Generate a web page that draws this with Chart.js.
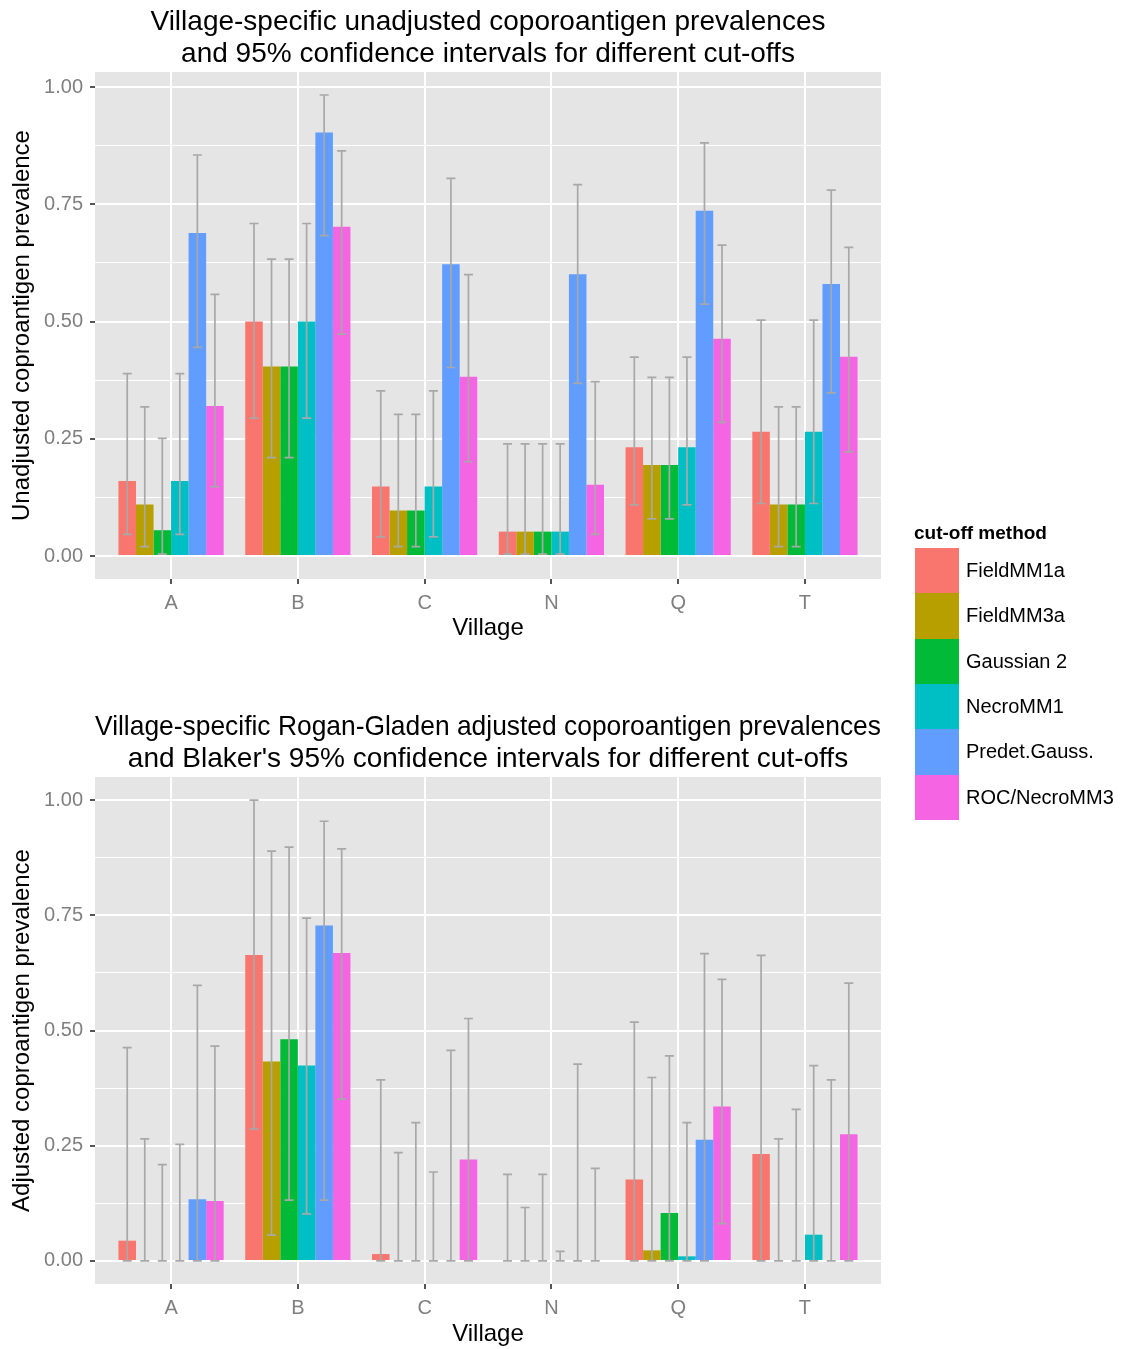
<!DOCTYPE html>
<html>
<head>
<meta charset="utf-8">
<script src="https://cdn.jsdelivr.net/npm/chart.js@4.4.1/dist/chart.umd.min.js"></script>
<style>
  body { margin: 0; width: 1121px; height: 1349px; overflow: hidden; background: #fff; position: relative;
         font-family: 'Liberation Sans', Arial, sans-serif; }
  canvas { position: absolute; left: 0; }
  #topChart { top: 0; }
  #bottomChart { top: 700px; }
  #legend { position: absolute; left: 914px; top: 522px; color: #000; }
  #legend .lt { font-weight: bold; font-size: 19px; line-height: 22px; height: 26px; }
  #legend .row { display: flex; align-items: center; height: 45.33px; }
  #legend .key { width: 44px; height: 45.33px; margin-left: 1px; }
  #legend .lab { font-size: 20px; margin-left: 7px; }
</style>
</head>
<body>
<canvas id="topChart" width="976" height="649"></canvas>
<canvas id="bottomChart" width="976" height="649"></canvas>
<div id="legend"><div class="lt">cut-off method</div></div>
<script>
const villages = ['A', 'B', 'C', 'N', 'Q', 'T'];
const methods = ['FieldMM1a', 'FieldMM3a', 'Gaussian 2', 'NecroMM1', 'Predet.Gauss.', 'ROC/NecroMM3'];
const methodColors = ['#F8766D', '#B79F00', '#00BA38', '#00BFC4', '#619CFF', '#F564E3'];

// unadjusted prevalences, one row per method, columns follow villages
const unadjPrev = [
    [0.160, 0.500, 0.148, 0.052, 0.232, 0.265],
    [0.110, 0.404, 0.097, 0.052, 0.194, 0.110],
    [0.055, 0.404, 0.097, 0.052, 0.194, 0.110],
    [0.160, 0.500, 0.148, 0.052, 0.232, 0.265],
    [0.689, 0.903, 0.622, 0.601, 0.736, 0.580],
    [0.320, 0.702, 0.382, 0.152, 0.463, 0.425]
];
const unadjLower = [
    [0.046, 0.294, 0.041, 0.004, 0.109, 0.112],
    [0.020, 0.210, 0.020, 0.004, 0.079, 0.020],
    [0.004, 0.210, 0.020, 0.004, 0.079, 0.020],
    [0.046, 0.294, 0.041, 0.004, 0.109, 0.112],
    [0.445, 0.683, 0.402, 0.368, 0.537, 0.348],
    [0.148, 0.473, 0.201, 0.046, 0.285, 0.222]
];
const unadjUpper = [
    [0.389, 0.709, 0.352, 0.239, 0.424, 0.503],
    [0.318, 0.633, 0.302, 0.239, 0.381, 0.318],
    [0.251, 0.633, 0.302, 0.239, 0.381, 0.318],
    [0.389, 0.709, 0.352, 0.239, 0.424, 0.503],
    [0.855, 0.983, 0.805, 0.792, 0.881, 0.780],
    [0.558, 0.864, 0.600, 0.372, 0.663, 0.658]
];

// Rogan-Gladen adjusted prevalences
const adjPrev = [
    [0.044, 0.664, 0.015, 0, 0.177, 0.232],
    [0, 0.433, 0, 0, 0.023, 0],
    [0, 0.481, 0, 0, 0.104, 0],
    [0, 0.424, 0, 0, 0.010, 0.057],
    [0.134, 0.728, 0, 0, 0.263, 0],
    [0.130, 0.668, 0.220, 0, 0.335, 0.275]
];
const adjLower = [
    [0, 0.286, 0, 0, 0, 0],
    [0, 0.056, 0, 0, 0, 0],
    [0, 0.132, 0, 0, 0, 0],
    [0, 0.102, 0, 0, 0, 0],
    [0, 0.132, 0, 0, 0, 0],
    [0, 0.351, 0, 0, 0.081, 0]
];
const adjUpper = [
    [0.463, 1.000, 0.393, 0.188, 0.518, 0.663],
    [0.265, 0.889, 0.235, 0.116, 0.398, 0.265],
    [0.209, 0.898, 0.300, 0.188, 0.445, 0.329],
    [0.253, 0.744, 0.193, 0.021, 0.300, 0.424],
    [0.598, 0.954, 0.457, 0.427, 0.667, 0.393],
    [0.466, 0.894, 0.526, 0.201, 0.611, 0.603]
];

const yTicks = [0, 0.125, 0.25, 0.375, 0.5, 0.625, 0.75, 0.875, 1];
const yTickLabels = ['0.00', '', '0.25', '', '0.50', '', '0.75', '', '1.00'];

const FONT = "'Liberation Sans', Arial, sans-serif";
Chart.defaults.font.family = FONT;

const isMajor = v => Math.abs(v * 4 - Math.round(v * 4)) < 1e-6;

// grey panel behind the grid
const panelBg = {
    id: 'panelBg',
    beforeDraw(chart) {
        const { ctx, chartArea: a } = chart;
        ctx.save();
        ctx.fillStyle = '#e5e5e5';
        ctx.fillRect(a.left, a.top, a.right - a.left, a.bottom - a.top);
        ctx.restore();
    }
};

// confidence interval whiskers on top of the bars
const errorBars = {
    id: 'errorBars',
    afterDatasetsDraw(chart) {
        const { ctx } = chart;
        const y = chart.scales.y;
        ctx.save();
        ctx.strokeStyle = '#a8a8a8';
        ctx.lineWidth = 1.7;
        chart.data.datasets.forEach((ds, i) => {
            chart.getDatasetMeta(i).data.forEach((bar, j) => {
                const x = bar.x;
                const y1 = y.getPixelForValue(ds.lower[j]);
                const y2 = y.getPixelForValue(ds.upper[j]);
                const hw = 4.5;
                ctx.beginPath();
                ctx.moveTo(x, y1); ctx.lineTo(x, y2);
                ctx.moveTo(x - hw, y1); ctx.lineTo(x + hw, y1);
                ctx.moveTo(x - hw, y2); ctx.lineTo(x + hw, y2);
                ctx.stroke();
            });
        });
        ctx.restore();
    }
};

function makeChart(id, titleLines, titlePadTop, yTitle, prev, lower, upper, yMin, yMax, xHeight, xTitlePad) {
    const ctx = document.getElementById(id).getContext('2d');
    return new Chart(ctx, {
        type: 'bar',
        data: {
            datasets: methods.map((m, i) => ({
                label: m,
                data: prev[i].map((v, j) => ({ x: j, y: v })),
                lower: lower[i],
                upper: upper[i],
                backgroundColor: methodColors[i],
                borderWidth: 0,
                categoryPercentage: 0.83,
                barPercentage: 1
            }))
        },
        options: {
            responsive: false,
            animation: false,
            devicePixelRatio: 1,
            layout: { padding: { left: 0, right: 95, top: 0, bottom: 0 } },
            plugins: {
                legend: { display: false },
                tooltip: { enabled: false },
                title: {
                    display: true,
                    fullSize: false,
                    text: titleLines,
                    color: '#000',
                    font: { size: 28, weight: 'normal', lineHeight: 1.143 },
                    padding: { top: titlePadTop, bottom: 2 }
                }
            },
            scales: {
                x: {
                    type: 'linear',
                    offset: false,
                    min: -0.6,
                    max: villages.length - 0.4,
                    afterBuildTicks(scale) { scale.ticks = villages.map((v, j) => ({ value: j })); },
                    grid: { offset: false, color: '#ffffff', lineWidth: 2, tickLength: 5, tickColor: '#555555' },
                    border: { display: false },
                    ticks: { color: '#7f7f7f', font: { size: 20 }, padding: 7,
                             callback: v => villages[v] },
                    title: { display: true, text: 'Village', color: '#000', font: { size: 24 },
                             padding: { top: 0, bottom: xTitlePad } },
                    afterFit(scale) { scale.height = xHeight; }
                },
                y: {
                    min: yMin,
                    max: yMax,
                    afterBuildTicks(scale) { scale.ticks = yTicks.map(v => ({ value: v })); },
                    grid: {
                        color: '#ffffff',
                        lineWidth: c => isMajor(c.tick.value) ? 2 : 1,
                        tickLength: 5,
                        tickColor: c => isMajor(c.tick.value) ? '#555555' : 'rgba(0,0,0,0)'
                    },
                    border: { display: false },
                    ticks: {
                        color: '#7f7f7f', font: { size: 20 }, padding: 7,
                        callback: (v, idx) => yTickLabels[idx]
                    },
                    title: { display: true, text: yTitle, color: '#000', font: { size: 24 },
                             padding: { top: 8, bottom: 0 } },
                    afterFit(scale) { scale.width = 95; }
                }
            }
        },
        plugins: [panelBg, errorBars]
    });
}

makeChart('topChart',
    ['Village-specific unadjusted coporoantigen prevalences', 'and 95% confidence intervals for different cut-offs'],
    6, 'Unadjusted coproantigen prevalence', unadjPrev, unadjLower, unadjUpper, -0.049, 1.032, 70, 6);

makeChart('bottomChart',
    ['Village-specific Rogan-Gladen adjusted coporoantigen prevalences', "and Blaker's 95% confidence intervals for different cut-offs"],
    11, 'Adjusted coproantigen prevalence', adjPrev, adjLower, adjUpper, -0.05, 1.05, 65, 0);

// shared legend
const legend = document.getElementById('legend');
methods.forEach((m, i) => {
    const row = document.createElement('div');
    row.className = 'row';
    row.innerHTML = '<div class="key" style="background:' + methodColors[i] + '"></div><div class="lab">' + m + '</div>';
    legend.appendChild(row);
});
</script>
</body>
</html>
